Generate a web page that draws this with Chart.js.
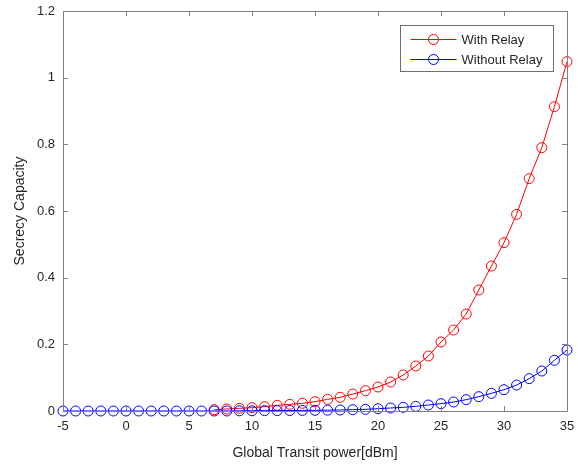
<!DOCTYPE html>
<html>
<head>
<meta charset="utf-8">
<script src="https://cdn.jsdelivr.net/npm/chart.js@4"></script>
<style>
  html, body { margin: 0; padding: 0; background: #fff; }
  #wrap { width: 578px; height: 466px; }
</style>
</head>
<body>
<div id="wrap"><canvas id="chart" width="578" height="466"></canvas></div>
<script>
// transmit power (dBm)
const powerWithRelay = [7, 8, 9, 10, 11, 12, 13, 14, 15, 16, 17, 18, 19, 20, 21,
  22, 23, 24, 25, 26, 27, 28, 29, 30, 31, 32, 33, 34, 35];
const capWithRelay = [0.004, 0.006, 0.008, 0.010, 0.013, 0.017, 0.020, 0.023, 0.028,
  0.035, 0.041, 0.051, 0.061, 0.072, 0.087, 0.108, 0.135, 0.165, 0.207, 0.243,
  0.291, 0.363, 0.435, 0.505, 0.590, 0.697, 0.790, 0.913, 1.048];

const powerNoRelay = [-5, -4, -3, -2, -1, 0, 1, 2, 3, 4, 5, 6, 7, 8, 9, 10, 11, 12,
  13, 14, 15, 16, 17, 18, 19, 20, 21, 22, 23, 24, 25, 26, 27, 28, 29, 30, 31, 32,
  33, 34, 35];
const capNoRelay = [0, 0, 0, 0, 0, 0, 0, 0, 0, 0, 0, 0, 0, 0, 0.0005, 0.0007, 0.001,
  0.0012, 0.0015, 0.0018, 0.002, 0.0025, 0.003, 0.004, 0.005, 0.007, 0.009, 0.011,
  0.014, 0.018, 0.022, 0.027, 0.034, 0.043, 0.053, 0.064, 0.078, 0.097, 0.120,
  0.152, 0.183];

const xTicks = [-5, 0, 5, 10, 15, 20, 25, 30, 35];
const yTicks = [0, 0.2, 0.4, 0.6, 0.8, 1, 1.2];

const textColor = '#262626';
const axisColor = '#808080';
const font = 'Liberation Sans, Arial, sans-serif';

function pairs(xs, ys) {
  return xs.map((x, i) => ({ x: x, y: ys[i] }));
}

// MATLAB-style box with inward ticks on all four sides
const boxPlugin = {
  id: 'box',
  afterDraw(chart) {
    const ctx = chart.ctx;
    const a = chart.chartArea;
    const xs = chart.scales.x, ys = chart.scales.y;
    ctx.save();
    ctx.strokeStyle = axisColor;
    ctx.lineWidth = 1;
    ctx.beginPath();
    ctx.rect(Math.round(a.left) + 0.5, Math.round(a.top) + 0.5,
      Math.round(a.right - a.left), Math.round(a.bottom - a.top));
    xTicks.forEach(v => {
      const px = Math.round(xs.getPixelForValue(v)) + 0.5;
      ctx.moveTo(px, a.bottom); ctx.lineTo(px, a.bottom - 5);
      ctx.moveTo(px, a.top); ctx.lineTo(px, a.top + 5);
    });
    yTicks.forEach(v => {
      const py = Math.round(ys.getPixelForValue(v)) + 0.5;
      ctx.moveTo(a.left, py); ctx.lineTo(a.left + 5, py);
      ctx.moveTo(a.right, py); ctx.lineTo(a.right - 5, py);
    });
    ctx.stroke();
    ctx.restore();
  }
};

// legend box in the upper right corner of the axes
const legendPlugin = {
  id: 'boxLegend',
  afterDraw(chart) {
    const ctx = chart.ctx;
    const a = chart.chartArea;
    const w = 153, h = 46;
    const x0 = Math.round(a.right - 14 - w) + 0.5, y0 = Math.round(a.top + 14) + 0.5;
    ctx.save();
    ctx.fillStyle = '#fff';
    ctx.strokeStyle = '#6e6e6e';
    ctx.lineWidth = 1;
    ctx.fillRect(x0, y0, w, h);
    ctx.strokeRect(x0, y0, w, h);
    ctx.font = '13px ' + font;
    ctx.textBaseline = 'middle';
    chart.data.datasets.forEach((ds, i) => {
      const y = y0 + 14 + i * 20;
      ctx.strokeStyle = ds.borderColor;
      ctx.beginPath();
      ctx.moveTo(x0 + 10, y); ctx.lineTo(x0 + 56, y);
      ctx.stroke();
      ctx.beginPath();
      ctx.arc(x0 + 33, y, 5, 0, Math.PI * 2);
      ctx.stroke();
      ctx.fillStyle = textColor;
      ctx.fillText(ds.label, x0 + 61, y + 1);
    });
    ctx.restore();
  }
};

new Chart(document.getElementById('chart').getContext('2d'), {
  type: 'line',
  data: {
    datasets: [
      {
        label: 'With Relay',
        data: pairs(powerWithRelay, capWithRelay),
        borderColor: '#ff0000',
        backgroundColor: 'rgba(0,0,0,0)',
        pointBorderColor: '#ff0000',
        pointBackgroundColor: 'rgba(0,0,0,0)',
        borderWidth: 1,
        pointRadius: 5,
        pointBorderWidth: 1,
        tension: 0,
        clip: false,
        order: 1
      },
      {
        label: 'Without Relay',
        data: pairs(powerNoRelay, capNoRelay),
        borderColor: '#0000ff',
        backgroundColor: 'rgba(0,0,0,0)',
        pointBorderColor: '#0000ff',
        pointBackgroundColor: 'rgba(0,0,0,0)',
        borderWidth: 1,
        pointRadius: 5,
        pointBorderWidth: 1,
        tension: 0,
        clip: false,
        order: 0
      }
    ]
  },
  options: {
    responsive: false,
    animation: false,
    layout: { padding: { top: 11, right: 11, left: 0, bottom: 0 } },
    plugins: {
      legend: { display: false },
      tooltip: { enabled: false }
    },
    scales: {
      x: {
        type: 'linear',
        min: -5,
        max: 35,
        afterBuildTicks: s => { s.ticks = xTicks.map(v => ({ value: v })); },
        grid: { display: false, drawTicks: false },
        border: { display: false },
        ticks: {
          color: textColor, font: { family: font, size: 13 }, padding: 8, maxRotation: 0,
          callback: v => String(v)
        },
        title: {
          display: true,
          text: 'Global Transit power[dBm]',
          color: textColor,
          font: { family: font, size: 14 },
          padding: { top: 4, bottom: 4 }
        },
        afterFit: s => { s.height = 55; s.paddingLeft = 0; s.paddingRight = 0; }
      },
      y: {
        min: 0,
        max: 1.2,
        afterBuildTicks: s => { s.ticks = yTicks.map(v => ({ value: v })); },
        grid: { display: false, drawTicks: false },
        border: { display: false },
        ticks: {
          color: textColor, font: { family: font, size: 13 }, padding: 8,
          callback: v => String(v)
        },
        title: {
          display: true,
          text: 'Secrecy Capacity',
          color: textColor,
          font: { family: font, size: 14 },
          padding: { top: 12, bottom: 4 }
        },
        afterFit: s => { s.width = 63; s.paddingTop = 0; s.paddingBottom = 0; }
      }
    }
  },
  plugins: [boxPlugin, legendPlugin]
});
</script>
</body>
</html>
